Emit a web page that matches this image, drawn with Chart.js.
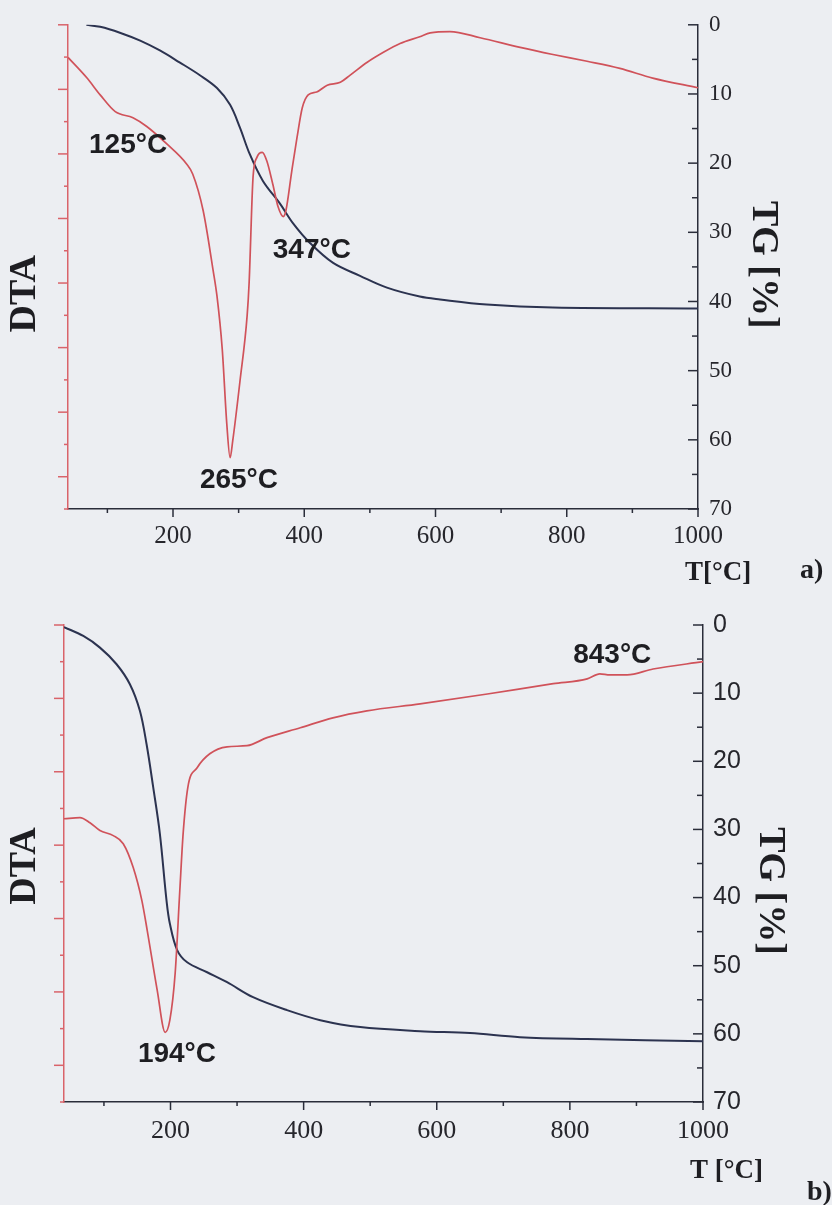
<!DOCTYPE html>
<html>
<head>
<meta charset="utf-8">
<script src="https://cdn.jsdelivr.net/npm/chart.js@4.4.0/dist/chart.umd.min.js"></script>
<style>
  html, body { margin: 0; padding: 0; background: #eceef2; }
  #wrap { position: relative; width: 832px; height: 1205px; overflow: hidden; }
  canvas { position: absolute; left: 0; }
</style>
</head>
<body>
<div id="wrap">
  <canvas id="chartA" width="832" height="600" style="top:0"></canvas>
  <canvas id="chartB" width="832" height="605" style="top:600px"></canvas>
</div>
<script>
// ---- panel a) ----
const aDtaTemp = [40, 69, 89, 112, 139, 160, 191, 221, 230, 246, 261, 267, 275, 282, 287, 291, 302, 313, 316,
  322, 328, 336, 343, 352, 360, 368, 372, 381, 389, 397, 406, 419, 435, 455, 470, 496, 520, 546, 576,
  592, 622, 668, 729, 779, 831, 881, 931, 1000];
const aDta = [13.99, 13.35, 12.83, 12.31, 12.12, 11.85, 11.30, 10.68, 10.38, 9.24, 7.41, 6.6, 4.96, 2.63, 1.59, 2.11, 3.95, 6.0, 7.01,
  10.29, 10.90, 11.05, 10.78, 10.07, 9.37, 9.06, 9.24, 10.47, 11.51, 12.43, 12.83, 12.92, 13.13, 13.22, 13.44, 13.84, 14.14, 14.42, 14.63,
  14.75, 14.79, 14.60, 14.30, 14.08, 13.87, 13.65, 13.35, 13.05];
const aTgTemp = [68, 89, 119, 150, 180, 210, 241, 267, 287, 302, 317, 337, 363, 383, 409, 444, 485, 526, 576, 607, 678, 779, 1000];
const aTg = [0.0, 0.29, 1.14, 2.29, 3.71, 5.43, 7.29, 9.14, 11.57, 14.86, 18.71, 22.57, 25.86, 28.71, 31.57, 34.43, 36.29, 38.0, 39.29, 39.71, 40.43, 40.86, 41.0];
const aLabels = ['125°C', '347°C', '265°C'];
const aLabelTemp = [72, 352, 241];
const aLabelTg = [18.6, 33.7, 67.0];

// ---- panel b) ----
const bDtaTemp = [40, 64, 79, 94, 114, 129, 144, 157, 165, 180, 192, 199, 207, 214, 219, 226, 240, 259, 285, 315, 345,
  395, 444, 495, 575, 676, 775, 826, 845, 860, 886, 925, 1000];
const bDta = [7.72, 7.75, 7.61, 7.40, 7.26, 7.04, 6.39, 5.49, 4.68, 3.05, 1.90, 2.23, 3.51, 5.77, 7.32, 8.57, 9.11, 9.49, 9.68, 9.71, 9.93,
  10.20, 10.47, 10.66, 10.85, 11.12, 11.40, 11.53, 11.67, 11.64, 11.64, 11.80, 12.0];
const bTgTemp = [40, 69, 94, 119, 139, 154, 164, 174, 184, 194, 199, 210, 225, 255, 285, 324, 375, 425, 485, 575, 650, 725, 826, 1000];
const bTg = [0.3, 1.61, 3.32, 5.76, 8.69, 12.59, 17.47, 23.8, 30.6, 40.4, 43.8, 47.7, 49.5, 50.96, 52.42, 54.62, 56.52, 57.99, 59.01, 59.6, 59.89, 60.48, 60.77, 61.1];
const bLabels = ['843°C', '194°C'];
const bLabelTemp = [805, 151];
const bLabelTg = [5.6, 64.1];

const tempTicks = [200, 400, 600, 800, 1000];

const RED = '#d0525a';
const AXIS_RED = '#d9636a';
const NAVY = '#2c3350';
const DARK = '#2a2d3a';

function points(xs, ys) {
  return xs.map((x, i) => ({ x: x, y: ys[i] }));
}

function line(ctx, x1, y1, x2, y2) {
  ctx.beginPath();
  ctx.moveTo(x1, y1);
  ctx.lineTo(x2, y2);
  ctx.stroke();
}

// ticks (with minor ones), axis titles and peak labels
function panelPlugin(p) {
  return {
    id: 'panel' + p.name,
    afterDraw(chart) {
      const ctx = chart.ctx;
      const area = chart.chartArea;
      const xs = chart.scales.x, ys = chart.scales.y, tg = chart.scales.tg;
      ctx.save();
      ctx.lineWidth = 1.5;

      ctx.strokeStyle = AXIS_RED;
      for (let i = 0; i <= p.dtaMax; i++) {
        const y = ys.getPixelForValue(i);
        const len = (p.dtaMax - i) % 2 === 0 ? 10 : 4;
        line(ctx, area.left - len, y, area.left, y);
      }

      ctx.strokeStyle = DARK;
      for (let t = 100; t <= 1000; t += 100) {
        const x = xs.getPixelForValue(t);
        const len = t % 200 === 0 ? 8 : 4;
        line(ctx, x, area.bottom, x, area.bottom + len);
      }
      for (let v = 0; v <= 70; v += 5) {
        const y = tg.getPixelForValue(v);
        const len = v % 10 === 0 ? 10 : 6;
        line(ctx, area.right - len, y, area.right, y);
      }

      ctx.fillStyle = '#1e1e22';
      ctx.textAlign = 'left';
      ctx.textBaseline = 'alphabetic';
      ctx.font = 'bold 28px "Liberation Sans", Arial, sans-serif';
      p.labels.forEach((txt, i) => {
        ctx.fillText(txt, xs.getPixelForValue(p.labelTemp[i]), tg.getPixelForValue(p.labelTg[i]));
      });

      ctx.font = 'bold 27px "Liberation Serif", "Times New Roman", serif';
      ctx.fillText(p.xTitle, area.right - 13, area.bottom + p.xTitleDy);
      ctx.font = 'bold 28px "Liberation Serif", "Times New Roman", serif';
      ctx.fillText(p.tag, area.right + p.tagDx, area.bottom + p.tagDy);

      ctx.font = 'bold 38px "Liberation Serif", "Times New Roman", serif';
      ctx.textAlign = 'center';
      ctx.textBaseline = 'middle';
      ctx.save();
      ctx.translate(25, area.top + p.dtaDy);
      ctx.rotate(-Math.PI / 2);
      ctx.fillText('DTA', 0, 0);
      ctx.restore();
      ctx.save();
      ctx.translate(area.right + p.tgDx, area.top + p.tgDy);
      ctx.rotate(Math.PI / 2);
      ctx.fillText('TG [%]', 0, 0);
      ctx.restore();

      ctx.restore();
    }
  };
}

function makeChart(id, p) {
  return new Chart(document.getElementById(id), {
    type: 'line',
    data: {
      datasets: [{
        label: 'DTA',
        data: points(p.dtaTemp, p.dta),
        yAxisID: 'y',
        borderColor: RED,
        borderWidth: 1.7,
        pointRadius: 0,
        cubicInterpolationMode: 'monotone',
        fill: false
      }, {
        label: 'TG',
        data: points(p.tgTemp, p.tg),
        yAxisID: 'tg',
        borderColor: NAVY,
        borderWidth: 2,
        pointRadius: 0,
        tension: 0.35,
        fill: false
      }]
    },
    options: {
      responsive: false,
      animation: false,
      layout: { padding: { top: p.padTop, left: 0, right: 0, bottom: 0 } },
      plugins: { legend: { display: false }, tooltip: { enabled: false } },
      scales: {
        x: {
          type: 'linear',
          min: 40,
          max: 1000,
          grid: { display: false, drawTicks: false },
          border: { color: DARK, width: 1.5 },
          afterBuildTicks: s => { s.ticks = tempTicks.map(v => ({ value: v })); },
          afterFit: s => { s.height = p.xHeight; },
          ticks: {
            autoSkip: false,
            maxRotation: 0,
            padding: p.xPad,
            color: '#26262c',
            font: { family: '"Liberation Serif", "Times New Roman", serif', size: p.xFont },
            callback: v => String(v)
          }
        },
        y: {
          position: 'left',
          min: 0,
          max: p.dtaMax,
          grid: { display: false, drawTicks: false },
          border: { color: AXIS_RED, width: 1.5 },
          ticks: { display: false },
          afterFit: s => { s.width = p.leftWidth; }
        },
        tg: {
          position: 'right',
          min: 0,
          max: 70,
          reverse: true,
          grid: { display: false, drawTicks: false },
          border: { color: DARK, width: 1.5 },
          afterFit: s => { s.width = p.rightWidth; },
          ticks: {
            stepSize: 10,
            padding: p.tgPad,
            color: '#26262c',
            font: { family: p.tgFamily, size: p.tgFont },
            callback: v => String(v)
          }
        }
      }
    },
    plugins: [panelPlugin(p)]
  });
}

makeChart('chartA', {
  name: 'A', dtaTemp: aDtaTemp, dta: aDta, tgTemp: aTgTemp, tg: aTg,
  labels: aLabels, labelTemp: aLabelTemp, labelTg: aLabelTg,
  dtaMax: 15, padTop: 19, xHeight: 91, leftWidth: 68, rightWidth: 134,
  xPad: 12, xFont: 25, tgPad: 11, tgFont: 23, tgFamily: '"Liberation Serif", "Times New Roman", serif',
  xTitle: 'T[°C]', xTitleDy: 71, tag: 'a)', tagDx: 102, tagDy: 69,
  dtaDy: 269, tgDx: 65, tgDy: 240
});

makeChart('chartB', {
  name: 'B', dtaTemp: bDtaTemp, dta: bDta, tgTemp: bTgTemp, tg: bTg,
  labels: bLabels, labelTemp: bLabelTemp, labelTg: bLabelTg,
  dtaMax: 13, padTop: 24, xHeight: 103, leftWidth: 64, rightWidth: 129,
  xPad: 14, xFont: 26, tgPad: 10, tgFont: 25, tgFamily: '"Liberation Sans", Arial, sans-serif',
  xTitle: 'T [°C]', xTitleDy: 76, tag: 'b)', tagDx: 104, tagDy: 98,
  dtaDy: 241, tgDx: 67, tgDy: 266
});
</script>
</body>
</html>
